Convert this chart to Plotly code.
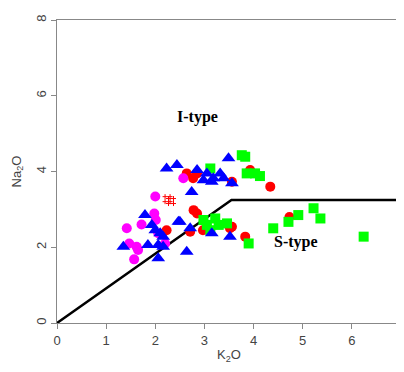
import plotly.graph_objects as go

# Data (K2O, Na2O)
red_k = [2.23, 2.64, 2.85, 2.77, 2.78, 2.85, 2.71, 2.97, 3.52, 4.34, 3.93, 3.83, 4.73, 3.56, 3.56]
red_na = [2.45, 3.95, 3.95, 3.82, 2.98, 2.89, 2.41, 2.45, 2.50, 3.60, 4.04, 2.28, 2.80, 3.73, 2.54]

mag_k = [2.00, 1.98, 1.72, 1.42, 2.01, 1.47, 1.62, 1.65, 1.57, 2.06, 2.57, 2.20]
mag_na = [3.34, 2.89, 2.60, 2.50, 2.72, 2.10, 2.01, 1.93, 1.68, 2.37, 3.82, 2.10]

hash_k = [2.25, 2.32]
hash_na = [3.27, 3.22]

green_k = [3.12, 2.98, 3.22, 3.29, 3.46, 3.12, 3.05, 3.76, 3.83, 3.86, 4.03, 4.13,
           3.90, 4.40, 4.71, 4.91, 5.22, 5.36, 6.24]
green_na = [4.08, 2.72, 2.76, 2.59, 2.63, 2.45, 2.59, 4.43, 4.39, 3.95, 3.95, 3.88,
            2.10, 2.50, 2.67, 2.85, 3.03, 2.76, 2.28]

blue_k = [1.79, 1.93, 2.00, 2.10, 2.16, 1.35, 1.85, 2.06, 2.06, 2.47,
          2.23, 2.44, 3.49, 2.85, 3.05, 2.98, 3.18, 3.32, 3.39, 3.56, 2.74, 3.15,
          2.50, 2.71, 3.15, 3.52, 2.64, 2.16]
blue_na = [2.85, 2.59, 2.45, 2.37, 2.28, 2.01, 2.06, 2.06, 1.71, 2.67,
           4.08, 4.17, 4.35, 4.04, 3.95, 3.77, 3.82, 3.95, 3.82, 3.69, 3.46, 3.73,
           2.67, 2.50, 2.37, 2.28, 1.88, 2.01]

x_ticks = [0, 1, 2, 3, 4, 5, 6, 7]
y_ticks = [0, 2, 4, 6, 8]

# I/S-type boundary
line_k = [0, 3.55, 7]
line_na = [0, 3.25, 3.25]

fig = go.Figure()
fig.add_trace(go.Scatter(x=line_k, y=line_na, mode="lines",
                         line=dict(color="black", width=2.5), hoverinfo="skip"))
fig.add_trace(go.Scatter(x=red_k, y=red_na, mode="markers",
                         marker=dict(symbol="circle", size=10, color="#ff0000", line=dict(width=0))))
fig.add_trace(go.Scatter(x=hash_k, y=hash_na, mode="markers",
                         marker=dict(symbol="hash-open", size=10, color="#ff0000", line=dict(width=1, color="#ff0000"))))
fig.add_trace(go.Scatter(x=mag_k, y=mag_na, mode="markers",
                         marker=dict(symbol="circle", size=10, color="#ff00ff", line=dict(width=0))))
fig.add_trace(go.Scatter(x=green_k, y=green_na, mode="markers",
                         marker=dict(symbol="square", size=10, color="#00ff00", line=dict(width=0))))
fig.add_trace(go.Scatter(x=blue_k, y=blue_na, mode="markers",
                         marker=dict(symbol="triangle-up", size=12, color="#0000ff", line=dict(width=0))))

fig.add_annotation(x=2.85, y=5.43, text="<b>I-type</b>", showarrow=False,
                   font=dict(family="Liberation Serif", size=16, color="black"))
fig.add_annotation(x=4.87, y=2.14, text="<b>S-type</b>", showarrow=False,
                   font=dict(family="Liberation Serif", size=16, color="black"))

tick_font = dict(family="Liberation Sans", size=13, color="#444444")

# Last x tick label sits at the figure's right edge, where plotly drops it;
# draw it at the axis value instead.
fig.add_annotation(x=x_ticks[-1], y=0, xref="x", yref="paper", text=str(x_ticks[-1]),
                   showarrow=False, yanchor="top", yshift=-6, xshift=-1, font=tick_font)

axis_common = dict(showline=True, linecolor="#888888", linewidth=1, mirror=True,
                   showgrid=False, zeroline=False, ticks="outside", ticklen=5,
                   tickcolor="#888888", automargin=False,
                   tickfont=tick_font)

# The page body has an 8px margin, so the figure is sized to fit inside it.
fig.update_layout(
    width=396, height=356,
    margin=dict(l=49, r=3, t=12, b=41),
    plot_bgcolor="white", paper_bgcolor="white",
    showlegend=False,
    xaxis=dict(range=[0, 7], tickvals=x_ticks,
               title=dict(text="K<sub>2</sub>O", standoff=6,
                          font=dict(family="Liberation Sans", size=13, color="#444444")),
               **axis_common),
    yaxis=dict(range=[0, 8], tickvals=y_ticks, tickangle=-90,
               title=dict(text="Na<sub>2</sub>O", standoff=9,
                          font=dict(family="Liberation Sans", size=13, color="#444444")),
               **axis_common),
)

fig.write_html("out.html")
